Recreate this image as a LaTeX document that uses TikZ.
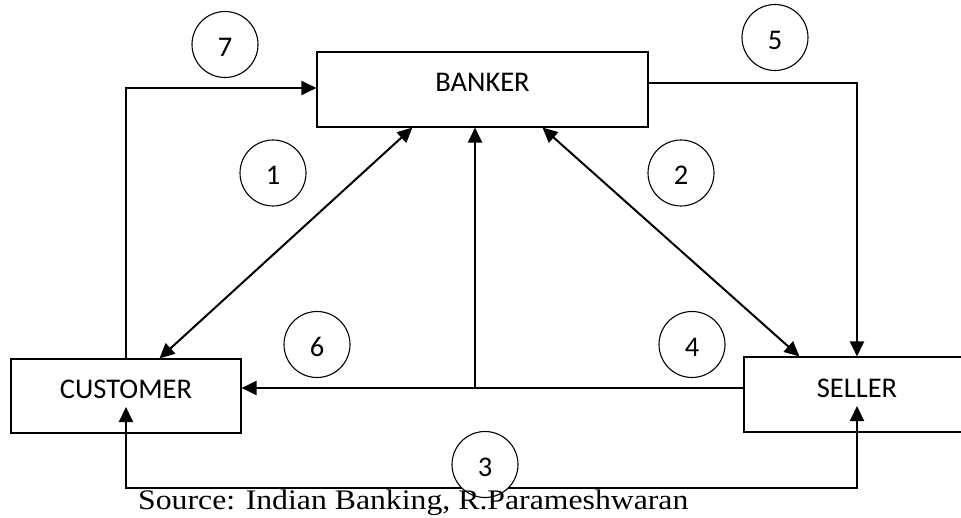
\documentclass[tikz,border=0pt]{standalone}
\usepackage{fontspec}
\setmainfont{Liberation Serif}
\newfontfamily\calib{Carlito}
\usetikzlibrary{arrows.meta}
\begin{document}
\begin{tikzpicture}[x=1pt,y=-1pt,
  box/.style={draw, line width=1.1pt, inner sep=0pt, font=\calib\fontsize{28.5}{34}\selectfont, text height=18.4pt},
  num/.style={circle, draw, line width=1.1pt, fill=white, minimum size=66pt, inner sep=0pt, font=\calib\fontsize{28.5}{34}\selectfont, text height=24pt, text depth=0pt},
  arr/.style={line width=2pt, -{Triangle[length=15pt,width=14pt]}},
  darr/.style={line width=2pt, {Triangle[length=15pt,width=14pt]}-{Triangle[length=15pt,width=14pt]}}]
\useasboundingbox (0,0) rectangle (961,518);
\fill[white] (0,0) rectangle (961,518);
\node[box, minimum width=331pt, minimum height=75pt, text depth=15pt] (banker) at (482.5,89.5) {BANKER};
\node[box, minimum width=230pt, minimum height=74pt, text depth=13pt] (customer) at (126,396) {CUSTOMER};
\node[box, minimum width=226pt, minimum height=75pt, text depth=12pt] (seller) at (857,394.5) {SELLER};
% connectors
\draw[arr] (customer.north) |- ([yshift=1.5pt]banker.west);
\draw[arr] ([yshift=6pt]banker.east) -| (seller.north);
\draw[darr] ([xshift=96pt]banker.south west) -- ([xshift=149pt]customer.north west);
\draw[darr] ([xshift=226pt]banker.south west) -- ([xshift=56pt]seller.north west);
\coordinate (j) at (475,388);
\draw[arr] (seller.west |- j) -- (customer.east |- j);
\draw[arr] (j) -- (j |- banker.south);
\coordinate (b) at (490,488);
\draw[darr] ([yshift=-11pt]customer.center) |- (b) -| ([yshift=-11.5pt]seller.center);
% numbers
\node[num] (n7) at (225,44.5) {7};
\node[num] (n1) at (273,173) {1};
\node[num] (n5) at (775,37.5) {5};
\node[num] (n2) at (681,173) {2};
\node[num] (n6) at (317,344.5) {6};
\node[num] (n4) at (692,344.5) {4};
\node[num] (n3) at (485,464.5) {3};
% source
\node[anchor=base west, inner sep=0pt, font=\fontsize{28.3}{34}\selectfont] (src) at (138,509) {\scalebox{1.122}[1]{Source: Indian Banking, R.Parameshwaran}};
\end{tikzpicture}
\end{document}
